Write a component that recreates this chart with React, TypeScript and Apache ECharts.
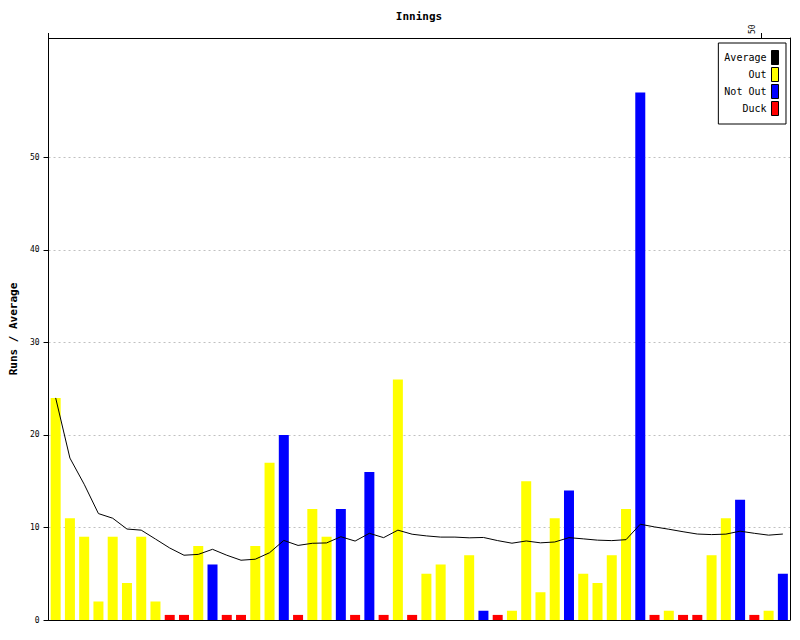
import { useEffect, useRef } from 'react';
import * as echarts from 'echarts';

const innings = ['1','2','3','4','5','6','7','8','9','10','11','12','13','14','15','16','17','18','19','20','21','22','23','24','25','26','27','28','29','30','31','32','33','34','35','36','37','38','39','40','41','42','43','44','45','46','47','48','49','50','51','52'];
const runs = [24,11,9,2,9,4,9,2,0,0,8,6,0,0,8,17,20,0,12,9,12,0,16,0,26,0,5,6,0,7,1,0,1,15,3,11,14,5,4,7,12,57,0,1,0,0,7,11,13,0,1,5];
// O = out, N = not out, D = duck
const status = ['O','O','O','O','O','O','O','O','D','D','O','N','D','D','O','O','N','D','O','O','N','D','N','D','O','D','O','O','N','O','N','D','O','O','O','O','N','O','O','O','O','N','D','O','D','D','O','O','N','D','O','N'];
const average = [24,17.5,14.67,11.5,11,9.83,9.71,8.75,7.78,7,7.09,7.64,7,6.46,6.57,7.27,8.6,8.06,8.29,8.33,9,8.53,9.37,8.9,9.71,9.27,9.09,8.96,8.96,8.88,8.92,8.58,8.3,8.54,8.34,8.43,8.9,8.77,8.63,8.58,8.68,10.35,10.06,9.81,9.54,9.29,9.23,9.28,9.6,9.37,9.17,9.29];
const yTicks = [0, 10, 20, 30, 40, 50];
const topTicks = [0, 50];
const topLabels = [50];
const duckMark = 0.55;

const FONT = 'DejaVu Sans Mono';

export default function App() {
  const ref = useRef<HTMLDivElement>(null);
  useEffect(() => {
    const chart = echarts.init(ref.current!, null, { renderer: 'svg' });
    const outData = runs.map((r, i) => (status[i] === 'O' ? r : null));
    const notOutData = runs.map((r, i) => (status[i] === 'N' ? r : null));
    const duckData = runs.map((r, i) => (status[i] === 'D' ? duckMark : null));
    chart.setOption({
      animation: false,
      backgroundColor: '#fff',
      textStyle: { fontFamily: FONT, color: '#000' },
      title: {
        text: 'Innings',
        left: 419,
        top: 11,
        padding: 0,
        textAlign: 'center',
        textStyle: { fontFamily: FONT, fontWeight: 'bold', fontSize: 11, color: '#000' },
      },
      legend: {
        data: ['Average', 'Out', 'Not Out', 'Duck'],
        orient: 'vertical',
        right: 14,
        top: 43,
        align: 'right',
        icon: 'rect',
        itemWidth: 7,
        itemHeight: 14,
        itemGap: 2,
        padding: [7, 7, 8, 6],
        borderColor: '#000',
        borderWidth: 1,
        backgroundColor: '#fff',
        textStyle: { fontFamily: FONT, fontSize: 10, color: '#000' },
        itemStyle: { borderColor: '#000', borderWidth: 1 },
      },
      grid: { left: 48, right: 10, top: 38, bottom: 20 },
      xAxis: [
        {
          type: 'category',
          data: innings,
          position: 'bottom',
          axisLine: { show: true, onZero: false, lineStyle: { color: '#000', width: 1 } },
          axisTick: { show: false },
          axisLabel: { show: false },
          splitLine: { show: false },
        },
        {
          type: 'value',
          position: 'top',
          min: 0,
          max: 52,
          axisLine: { show: true, onZero: false, lineStyle: { color: '#000', width: 1 } },
          axisTick: { show: true, length: 5, customValues: topTicks, lineStyle: { color: '#000', width: 1 } },
          axisLabel: {
            customValues: topLabels,
            rotate: -90,
            fontFamily: FONT,
            fontSize: 8,
            color: '#000',
            margin: 4,
            verticalAlign: 'bottom',
            lineHeight: 18,
          },
          splitLine: { show: false },
        },
      ],
      yAxis: [
        {
          type: 'value',
          min: 0,
          max: 62.9,
          interval: 10,
          name: 'Runs / Average',
          nameLocation: 'middle',
          nameGap: 28,
          nameRotate: 90,
          nameTextStyle: { fontFamily: FONT, fontWeight: 'bold', fontSize: 11, color: '#000' },
          axisLine: { show: true, onZero: false, lineStyle: { color: '#000', width: 1 } },
          axisTick: { show: true, length: 5, customValues: yTicks, lineStyle: { color: '#000' } },
          axisLabel: { customValues: yTicks, fontFamily: FONT, fontSize: 8, color: '#000', margin: 9 },
          splitLine: { show: true, lineStyle: { color: '#c0c0c0', type: [2, 3], width: 1 } },
        },
        {
          type: 'value',
          position: 'right',
          min: 0,
          max: 62.9,
          axisLine: { show: true, onZero: false, lineStyle: { color: '#000', width: 1 } },
          axisTick: { show: false },
          axisLabel: { show: false },
          splitLine: { show: false },
        },
      ],
      series: [
        {
          name: 'Average',
          type: 'line',
          data: average,
          symbol: 'none',
          z: 5,
          lineStyle: { color: '#000', width: 1 },
          itemStyle: { color: '#000' },
        },
        {
          name: 'Out',
          type: 'bar',
          stack: 'runs',
          barWidth: 10,
          data: outData,
          itemStyle: { color: '#ffff00' },
        },
        {
          name: 'Not Out',
          type: 'bar',
          stack: 'runs',
          barWidth: 10,
          data: notOutData,
          itemStyle: { color: '#0000ff' },
        },
        {
          name: 'Duck',
          type: 'bar',
          stack: 'runs',
          barWidth: 10,
          data: duckData,
          itemStyle: { color: '#ff0000' },
        },
      ],
    });
    return () => chart.dispose();
  }, []);
  return (
    <div
      ref={ref}
      style={{ position: 'absolute', left: 0, top: 0, width: 800, height: 640, background: '#fff' }}
    />
  );
}
